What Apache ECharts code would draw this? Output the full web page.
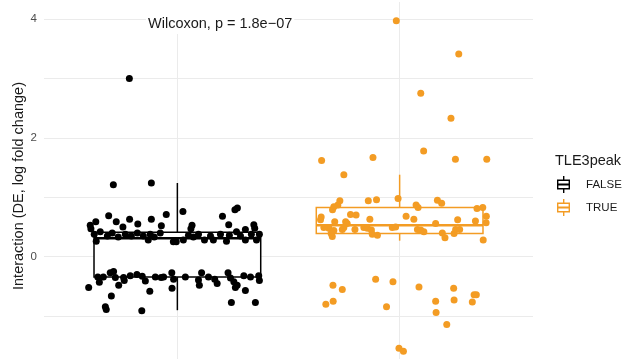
<!DOCTYPE html>
<html>
<head>
<meta charset="utf-8">
<script src="https://cdn.jsdelivr.net/npm/echarts@6/dist/echarts.min.js"></script>
<style>
  html, body { margin: 0; padding: 0; background: #fff; }
  #chart { width: 624px; height: 359px; }
</style>
</head>
<body>
<div id="chart"></div>
<script>
// groups on the discrete x axis (positions 1 and 2)
const groups = ['FALSE', 'TRUE'];
const groupColors = ['#000000', '#F39C24'];

// box stats: [min, q1, median, q3, max]
const falseBox = [-0.90, -0.34, 0.31, 0.41, 1.24];
const trueBox = [0.27, 0.39, 0.53, 0.83, 1.38];

// jittered points: horizontal offset from the group centre, and value
const falseJitter = [
  -0.216, -0.288, -0.117, 0.025, -0.309, -0.275, -0.215, -0.117, -0.050, -0.072,
  -0.178, -0.245, -0.367, -0.392, -0.389, 0.203, 0.259, 0.270, 0.231, 0.344,
  0.348, 0.066, 0.061, 0.306, -0.374, -0.365, -0.347, -0.315, -0.293, -0.266,
  -0.234, -0.207, -0.180, -0.153, -0.131, -0.122, -0.104, -0.077, -0.018, -0.005,
  0.027, 0.050, 0.072, 0.095, 0.122, 0.149, 0.162, 0.194, 0.221, 0.234,
  0.266, 0.284, 0.306, 0.333, 0.356, 0.369, -0.399, -0.358, -0.351, -0.302,
  -0.287, -0.279, -0.264, -0.242, -0.239, -0.182, -0.158, -0.144, -0.124, -0.073,
  -0.062, -0.025, -0.017, -0.024, 0.109, 0.095, 0.099, 0.168, 0.179, 0.228,
  0.239, 0.254, 0.261, 0.269, 0.299, 0.306, 0.366, 0.369, -0.297, -0.324,
  -0.320, -0.160, 0.243, 0.351, -0.333, -0.212, -0.099, 0.036, 0.140, 0.329
];
const falseValues = [
  3.00, 1.21, 1.24, 0.76, 0.69, 0.59, 0.63, 0.63, 0.71, 0.52,
  0.55, 0.50, 0.59, 0.53, 0.47, 0.68, 0.79, 0.82, 0.54, 0.54,
  0.48, 0.53, 0.47, 0.46, 0.38, 0.26, 0.42, 0.35, 0.40, 0.33,
  0.38, 0.35, 0.40, 0.35, 0.28, 0.38, 0.33, 0.40, 0.25, 0.25,
  0.28, 0.36, 0.33, 0.38, 0.28, 0.35, 0.28, 0.38, 0.26, 0.36,
  0.42, 0.35, 0.28, 0.38, 0.28, 0.38, -0.52, -0.34, -0.43, -0.27,
  -0.25, -0.35, -0.48, -0.35, -0.40, -0.30, -0.33, -0.41, -0.58, -0.35,
  -0.34, -0.27, -0.38, -0.53, -0.27, -0.39, -0.48, -0.38, -0.45, -0.27,
  -0.36, -0.42, -0.52, -0.48, -0.32, -0.57, -0.32, -0.40, -0.66, -0.84,
  -0.89, -0.91, -0.77, -0.77, -0.34, -0.32, -0.34, -0.34, -0.34, -0.34
];
const trueJitter = [
  -0.015, 0.266, 0.095, 0.231, 0.108, 0.251, 0.392, -0.120, -0.351, -0.251,
  -0.269, -0.278, -0.296, -0.302, -0.141, -0.104, -0.007, 0.074, 0.083, 0.170,
  0.189, 0.348, 0.374, -0.353, -0.356, -0.221, -0.196, 0.029, 0.064, 0.261,
  0.341, 0.390, 0.389, -0.292, -0.243, -0.236, -0.134, 0.162, -0.318, -0.308,
  -0.303, -0.258, -0.251, -0.296, -0.161, -0.145, -0.127, -0.123, -0.100, -0.201,
  -0.033, -0.341, -0.018, 0.080, 0.095, 0.109, 0.192, 0.204, 0.245, 0.252,
  0.270, 0.376, -0.108, -0.030, -0.300, -0.258, 0.087, 0.243, -0.332, -0.299,
  -0.059, 0.162, 0.245, 0.327, 0.335, 0.345, 0.164, 0.212, -0.003, 0.017
];
const trueValues = [
  3.97, 3.41, 2.75, 2.33, 1.78, 1.64, 1.64, 1.67, 1.62, 1.38,
  0.94, 0.87, 0.84, 0.79, 0.94, 0.96, 0.98, 0.87, 0.83, 0.95,
  0.90, 0.81, 0.83, 0.67, 0.62, 0.71, 0.70, 0.68, 0.63, 0.62,
  0.60, 0.68, 0.57, 0.59, 0.59, 0.56, 0.63, 0.56, 0.48, 0.39,
  0.34, 0.46, 0.49, 0.44, 0.49, 0.48, 0.45, 0.38, 0.36, 0.46,
  0.49, 0.49, 0.50, 0.46, 0.45, 0.42, 0.40, 0.32, 0.39, 0.46,
  0.46, 0.28, -0.38, -0.42, -0.48, -0.55, -0.51, -0.53, -0.80, -0.75,
  -0.84, -0.75, -0.73, -0.76, -0.64, -0.64, -0.94, -1.14, -1.54, -1.59
];

const yTickValues = [-1, 0, 1, 2, 3, 4];
const yTickLabels = [0, 2, 4];
const xTickValues = [1, 2];

const font = '"Liberation Sans", Arial, sans-serif';
const boxIcon = 'path://M6,0h1.4v3.5h-1.4z M0,3.5h13v1.4h-13z M0,12.1h13v1.4h-13z M0,3.5h1.4v10h-1.4z M11.6,3.5h1.4v10h-1.4z M0,7.6h13v1.8h-13z M6,13.5h1.4v3.5h-1.4z';

function jitterPoints(pos, offsets, values) {
  return values.map((v, i) => [pos + offsets[i], v]);
}

function renderBox(params, api) {
  const x = api.value(0);
  const half = api.size([0.75, 0])[0] / 2;
  const pMin = api.coord([x, api.value(1)]);
  const pQ1 = api.coord([x, api.value(2)]);
  const pMed = api.coord([x, api.value(3)]);
  const pQ3 = api.coord([x, api.value(4)]);
  const pMax = api.coord([x, api.value(5)]);
  const color = groupColors[params.dataIndex];
  return {
    type: 'group',
    children: [
      { type: 'line', shape: { x1: pMax[0], y1: pMax[1], x2: pQ3[0], y2: pQ3[1] }, style: { stroke: color, lineWidth: 1.5 } },
      { type: 'line', shape: { x1: pQ1[0], y1: pQ1[1], x2: pMin[0], y2: pMin[1] }, style: { stroke: color, lineWidth: 1.5 } },
      { type: 'rect', shape: { x: pQ3[0] - half, y: pQ3[1], width: half * 2, height: pQ1[1] - pQ3[1] },
        style: { fill: '#fff', stroke: color, lineWidth: 1.5 } },
      { type: 'line', shape: { x1: pMed[0] - half, y1: pMed[1], x2: pMed[0] + half, y2: pMed[1] }, style: { stroke: color, lineWidth: 2.4 } }
    ]
  };
}

const chart = echarts.init(document.getElementById('chart'));
chart.setOption({
  animation: false,
  textStyle: { fontFamily: font },
  grid: { left: 44, right: 91, top: 2, bottom: 0 },
  xAxis: {
    type: 'value',
    min: 0.4,
    max: 2.6,
    axisLine: { show: false },
    axisTick: { show: false, customValues: xTickValues },
    axisLabel: { show: false, customValues: xTickValues },
    splitLine: { show: true, lineStyle: { color: '#EBEBEB', width: 1 } }
  },
  yAxis: {
    type: 'value',
    min: -1.721,
    max: 4.286,
    axisLine: { show: false },
    axisTick: { show: false, customValues: yTickValues },
    axisLabel: { customValues: yTickLabels, margin: 7, color: '#4D4D4D', fontSize: 11.5, fontFamily: font },
    splitLine: { show: true, lineStyle: { color: '#EBEBEB', width: 1 } }
  },
  legend: {
    data: groups,
    orient: 'vertical',
    left: 557,
    top: 176,
    padding: 0,
    itemWidth: 13,
    itemHeight: 17,
    itemGap: 6,
    icon: boxIcon,
    selectedMode: false,
    textStyle: { fontSize: 11.5, color: '#1A1A1A', fontFamily: font, padding: [0, 0, 0, 11] }
  },
  graphic: [
    { type: 'text', left: 146, top: 2, z: 10,
      style: { text: 'Wilcoxon, p = 1.8e\u221207', fontSize: 14.5, fill: '#1A1A1A', fontFamily: font,
        backgroundColor: '#fff', padding: [14, 2, 3, 2] } },
    { type: 'text', x: 19, y: 186, rotation: Math.PI / 2,
      style: { text: 'Interaction (DE, log fold change)', fontSize: 14.5, fill: '#1A1A1A', fontFamily: font,
        align: 'center', verticalAlign: 'middle' } },
    { type: 'text', left: 555, top: 153,
      style: { text: 'TLE3peak', fontSize: 14.5, fill: '#1A1A1A', fontFamily: font } }
  ],
  series: [
    {
      name: 'boxes',
      type: 'custom',
      z: 1,
      renderItem: renderBox,
      encode: { x: 0, y: [1, 2, 3, 4, 5] },
      data: [[1].concat(falseBox), [2].concat(trueBox)]
    },
    {
      name: groups[0],
      type: 'scatter',
      z: 2,
      symbolSize: 7,
      itemStyle: { color: groupColors[0], opacity: 1 },
      data: jitterPoints(1, falseJitter, falseValues)
    },
    {
      name: groups[1],
      type: 'scatter',
      z: 2,
      symbolSize: 7,
      itemStyle: { color: groupColors[1], opacity: 1 },
      data: jitterPoints(2, trueJitter, trueValues)
    }
  ]
});
</script>
</body>
</html>
